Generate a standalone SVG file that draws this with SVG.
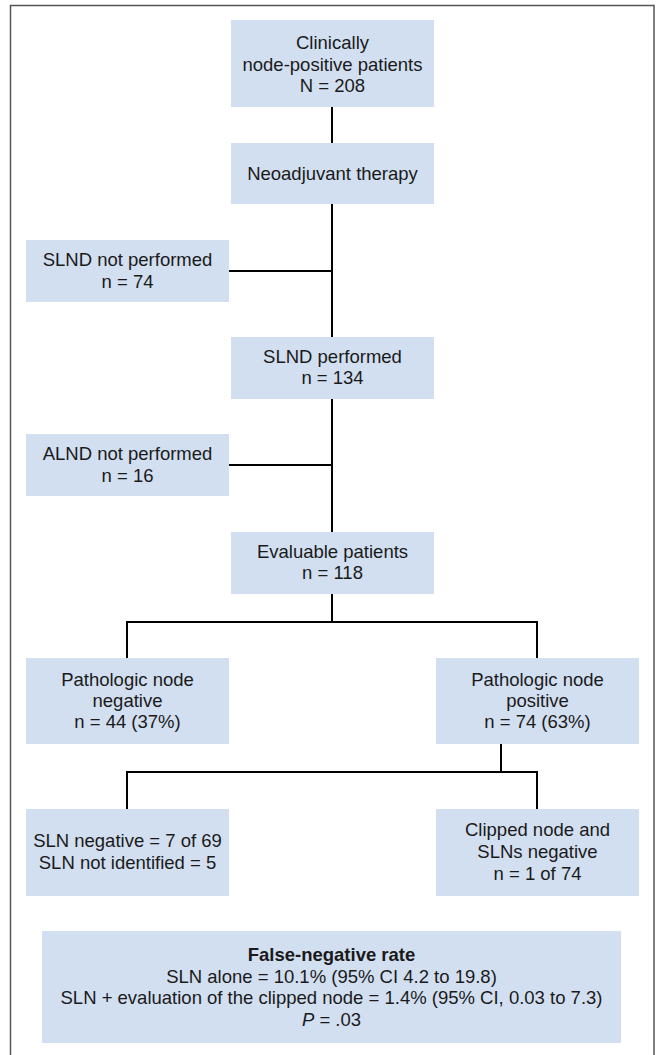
<svg xmlns="http://www.w3.org/2000/svg" width="656" height="1055" viewBox="0 0 656 1055">
<style>
.box{fill:#d2dff1;}
.t{font-family:"Liberation Sans",Arial,sans-serif;font-size:18.5px;fill:#1a1a1a;text-anchor:middle;}
.b{font-weight:bold;}
.c{stroke:#000;stroke-width:2;fill:none;}
.frame{stroke:#555;stroke-width:1.5;fill:none;}
</style>
<rect width="656" height="1055" fill="#fff"/>
<path class="frame" d="M10.5,1055 V5.5 H654 V1055"/>
<g id="connectors">
<path class="c" d="M332,107 V143 M332,204 V337 M332,399 V532 M229,271 H332 M229,465 H332"/>
<path class="c" d="M332,594 V622 M127,658 V622 H537 V658"/>
<path class="c" d="M501,744 V772 M127,809 V772 H537 V809"/>
</g>
<g id="n1"><rect class="box" x="231" y="20" width="203" height="87"/>
<text class="t" x="332.5" y="49">Clinically</text><text class="t" x="332.5" y="71">node-positive patients</text><text class="t" x="332.5" y="92">N = 208</text></g>
<g id="n2"><rect class="box" x="231" y="143" width="203" height="61"/>
<text class="t" x="332.5" y="180">Neoadjuvant therapy</text></g>
<g id="n3"><rect class="box" x="26" y="240" width="203" height="62"/>
<text class="t" x="127.5" y="266">SLND not performed</text><text class="t" x="127.5" y="288">n = 74</text></g>
<g id="n4"><rect class="box" x="231" y="337" width="203" height="62"/>
<text class="t" x="332.5" y="363">SLND performed</text><text class="t" x="332.5" y="384">n = 134</text></g>
<g id="n5"><rect class="box" x="26" y="434" width="203" height="62"/>
<text class="t" x="127.5" y="460">ALND not performed</text><text class="t" x="127.5" y="482">n = 16</text></g>
<g id="n6"><rect class="box" x="231" y="532" width="203" height="62"/>
<text class="t" x="332.5" y="558">Evaluable patients</text><text class="t" x="332.5" y="579">n = 118</text></g>
<g id="n7"><rect class="box" x="26" y="658" width="203" height="86"/>
<text class="t" x="127.5" y="686">Pathologic node</text><text class="t" x="127.5" y="707">negative</text><text class="t" x="127.5" y="728">n = 44 (37%)</text></g>
<g id="n8"><rect class="box" x="436" y="658" width="203" height="86"/>
<text class="t" x="537.5" y="686">Pathologic node</text><text class="t" x="537.5" y="707">positive</text><text class="t" x="537.5" y="728">n = 74 (63%)</text></g>
<g id="n9"><rect class="box" x="26" y="809" width="203" height="87"/>
<text class="t" x="127.5" y="847">SLN negative = 7 of 69</text><text class="t" x="127.5" y="869">SLN not identified = 5</text></g>
<g id="n10"><rect class="box" x="436" y="809" width="203" height="87"/>
<text class="t" x="537.5" y="836">Clipped node and</text><text class="t" x="537.5" y="858">SLNs negative</text><text class="t" x="537.5" y="880">n = 1 of 74</text></g>
<g id="n11"><rect class="box" x="42" y="931" width="579" height="112"/>
<text class="t b" x="331.5" y="961">False-negative rate</text>
<text class="t" x="331.5" y="983">SLN alone = 10.1% (95% CI 4.2 to 19.8)</text>
<text class="t" x="331.5" y="1004">SLN + evaluation of the clipped node = 1.4% (95% CI, 0.03 to 7.3)</text>
<text class="t" x="331.5" y="1026"><tspan font-style="italic">P</tspan> = .03</text></g>
</svg>
